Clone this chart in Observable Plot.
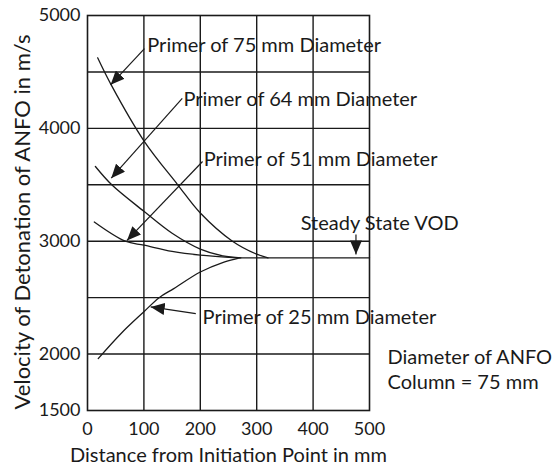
<!DOCTYPE html>
<html>
<head>
<meta charset="utf-8">
<script src="https://cdn.jsdelivr.net/npm/d3@7"></script>
<script src="https://cdn.jsdelivr.net/npm/@observablehq/plot@0.6"></script>
<style>
  html, body { margin: 0; padding: 0; background: #fff; }
</style>
</head>
<body>
<div id="chart"></div>
<script>
// ---- data ----
const dist75 = [18, 42, 100, 160, 200, 257, 300, 320];
const vod75  = [4625, 4385, 3890, 3500, 3250, 3000, 2885, 2853];

const dist64 = [14, 43, 100, 150, 200, 240, 272];
const vod64  = [3662, 3500, 3265, 3070, 2930, 2870, 2853];

const dist51 = [12, 67, 100, 150, 200, 265];
const vod51  = [3170, 3000, 2965, 2910, 2877, 2853];

const dist25 = [19, 60, 100, 127, 153, 200, 242, 270];
const vod25  = [1960, 2185, 2375, 2500, 2580, 2727, 2815, 2853];

const distSteady = [270, 500];
const vodSteady  = [2853, 2853];

const xTicks = [0, 100, 200, 300, 400, 500];
const yTicks = [1500, 2000, 3000, 4000, 5000];
const xGrid = [100, 200, 300, 400];
const yGrid = [2000, 2500, 3000, 3500, 4000, 4500];

const labels = ["Primer of 75 mm Diameter", "Primer of 64 mm Diameter", "Primer of 51 mm Diameter", "Primer of 25 mm Diameter", "Steady State VOD"];
const labelX = [106, 170, 206, 204, 378];
const labelY = [4736, 4256, 3721, 2323, 3153];

const arrowX1 = [101, 168, 204, 192, 476];
const arrowY1 = [4707, 4265, 3706, 2359, 3060];
const arrowX2 = [41, 42, 70, 112, 476];
const arrowY2 = [4386, 3559, 3007, 2418, 2883];

const noteLines = ["Diameter of ANFO", "Column = 75 mm"];
const noteX = [532, 532];
const noteY = [1971, 1747];

const xLabel = "Distance from Initiation Point in mm";
const yLabel = "Velocity of Detonation of ANFO in m/s";

// ---- build tables ----
const series = [
  [dist75, vod75, "75"], [dist64, vod64, "64"], [dist51, vod51, "51"], [dist25, vod25, "25"], [distSteady, vodSteady, "steady"]
];
const curves = series.flatMap(([xs, ys, k]) => xs.map((x, i) => ({x, y: ys[i], k})));
const lbls = labels.map((t, i) => ({t, x: labelX[i], y: labelY[i]}));
const arrows = arrowX1.map((x1, i) => ({x1, y1: arrowY1[i], x2: arrowX2[i], y2: arrowY2[i]}));
const notes = noteLines.map((t, i) => ({t, x: noteX[i], y: noteY[i]}));

const ink = "#1a1a1a";
const font = "Lato, 'Open Sans', sans-serif";

const chart = Plot.plot({
  width: 556,
  height: 466,
  marginLeft: 87,
  marginRight: 187,
  marginTop: 15,
  marginBottom: 56,
  style: { fontFamily: font, fontSize: "18px", color: ink, background: "#fff" },
  x: { domain: [0, 500], ticks: xTicks, tickSize: 0, tickPadding: 12, label: null, tickFormat: d3.format("d") },
  y: { domain: [1500, 5000], ticks: yTicks, tickSize: 0, tickPadding: 7, label: null, tickFormat: d3.format("d") },
  marks: [
    Plot.ruleX(xGrid, { stroke: ink, strokeWidth: 1.4 }),
    Plot.ruleY(yGrid, { stroke: ink, strokeWidth: 1.4 }),
    Plot.frame({ stroke: ink, strokeWidth: 1.6 }),
    Plot.line(curves, { x: "x", y: "y", z: "k", curve: "catmull-rom", stroke: ink, strokeWidth: 1.3 }),
    Plot.link(arrows, { x1: "x1", y1: "y1", x2: "x2", y2: "y2", stroke: ink, strokeWidth: 1.2 }),
    Plot.text(lbls, { x: "x", y: "y", text: "t", textAnchor: "start", fill: ink, fontSize: 20 }),
    Plot.text(notes, { x: "x", y: "y", text: "t", textAnchor: "start", fill: ink, fontSize: 20 }),
    Plot.text([xLabel], { frameAnchor: "bottom", dy: 45, lineAnchor: "middle", textAnchor: "middle", fill: ink, fontSize: 20 }),
    Plot.text([yLabel], { frameAnchor: "left", dx: -65, dy: 9, rotate: -90, lineAnchor: "middle", textAnchor: "middle", fill: ink, fontSize: 22 })
  ]
});

// filled arrowheads on the link mark
const ns = "http://www.w3.org/2000/svg";
const defs = document.createElementNS(ns, "defs");
const marker = document.createElementNS(ns, "marker");
marker.setAttribute("id", "ahead");
marker.setAttribute("viewBox", "0 0 14 12");
marker.setAttribute("refX", "14");
marker.setAttribute("refY", "6");
marker.setAttribute("markerWidth", "14");
marker.setAttribute("markerHeight", "12");
marker.setAttribute("markerUnits", "userSpaceOnUse");
marker.setAttribute("orient", "auto");
const mp = document.createElementNS(ns, "path");
mp.setAttribute("d", "M0,0L14,6L0,12Z");
mp.setAttribute("fill", ink);
marker.appendChild(mp);
defs.appendChild(marker);
chart.insertBefore(defs, chart.firstChild);
chart.querySelectorAll('g[aria-label="link"] path, g[aria-label="link"] line').forEach(p => p.setAttribute("marker-end", "url(#ahead)"));

document.getElementById("chart").appendChild(chart);
</script>
</body>
</html>
